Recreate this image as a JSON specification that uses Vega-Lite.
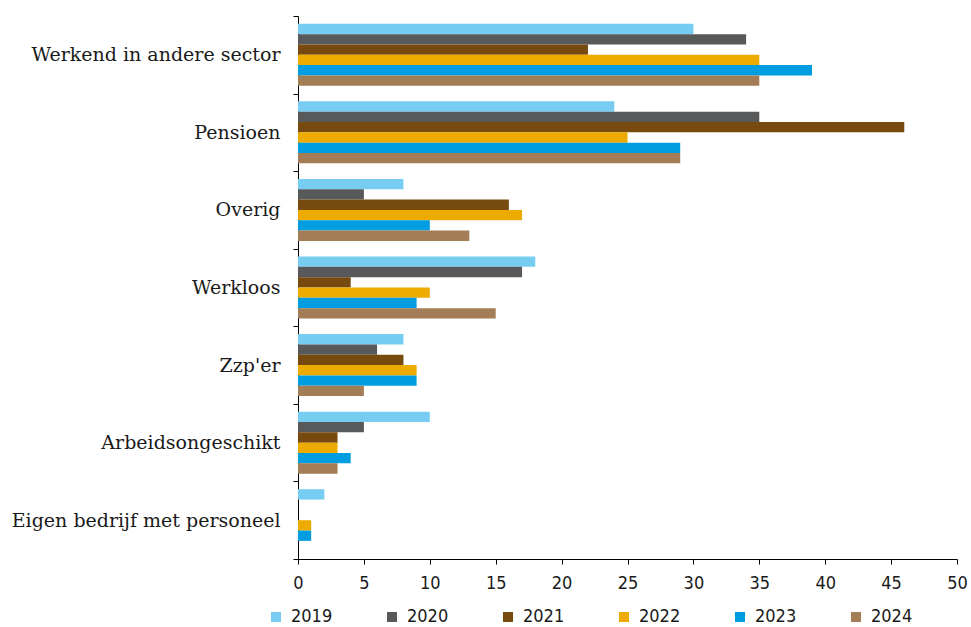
{
  "$schema": "https://vega.github.io/schema/vega-lite/v6.json",
  "autosize": {"type": "none"},
  "width": 659,
  "height": 543,
  "padding": {"left": 298, "top": 16, "right": 14, "bottom": 68},
  "background": "white",
  "data": {
    "values": [
      {"categorie": "Werkend in andere sector", "jaar": "2019", "waarde": 30},
      {"categorie": "Werkend in andere sector", "jaar": "2020", "waarde": 34},
      {"categorie": "Werkend in andere sector", "jaar": "2021", "waarde": 22},
      {"categorie": "Werkend in andere sector", "jaar": "2022", "waarde": 35},
      {"categorie": "Werkend in andere sector", "jaar": "2023", "waarde": 39},
      {"categorie": "Werkend in andere sector", "jaar": "2024", "waarde": 35},
      {"categorie": "Pensioen", "jaar": "2019", "waarde": 24},
      {"categorie": "Pensioen", "jaar": "2020", "waarde": 35},
      {"categorie": "Pensioen", "jaar": "2021", "waarde": 46},
      {"categorie": "Pensioen", "jaar": "2022", "waarde": 25},
      {"categorie": "Pensioen", "jaar": "2023", "waarde": 29},
      {"categorie": "Pensioen", "jaar": "2024", "waarde": 29},
      {"categorie": "Overig", "jaar": "2019", "waarde": 8},
      {"categorie": "Overig", "jaar": "2020", "waarde": 5},
      {"categorie": "Overig", "jaar": "2021", "waarde": 16},
      {"categorie": "Overig", "jaar": "2022", "waarde": 17},
      {"categorie": "Overig", "jaar": "2023", "waarde": 10},
      {"categorie": "Overig", "jaar": "2024", "waarde": 13},
      {"categorie": "Werkloos", "jaar": "2019", "waarde": 18},
      {"categorie": "Werkloos", "jaar": "2020", "waarde": 17},
      {"categorie": "Werkloos", "jaar": "2021", "waarde": 4},
      {"categorie": "Werkloos", "jaar": "2022", "waarde": 10},
      {"categorie": "Werkloos", "jaar": "2023", "waarde": 9},
      {"categorie": "Werkloos", "jaar": "2024", "waarde": 15},
      {"categorie": "Zzp'er", "jaar": "2019", "waarde": 8},
      {"categorie": "Zzp'er", "jaar": "2020", "waarde": 6},
      {"categorie": "Zzp'er", "jaar": "2021", "waarde": 8},
      {"categorie": "Zzp'er", "jaar": "2022", "waarde": 9},
      {"categorie": "Zzp'er", "jaar": "2023", "waarde": 9},
      {"categorie": "Zzp'er", "jaar": "2024", "waarde": 5},
      {"categorie": "Arbeidsongeschikt", "jaar": "2019", "waarde": 10},
      {"categorie": "Arbeidsongeschikt", "jaar": "2020", "waarde": 5},
      {"categorie": "Arbeidsongeschikt", "jaar": "2021", "waarde": 3},
      {"categorie": "Arbeidsongeschikt", "jaar": "2022", "waarde": 3},
      {"categorie": "Arbeidsongeschikt", "jaar": "2023", "waarde": 4},
      {"categorie": "Arbeidsongeschikt", "jaar": "2024", "waarde": 3},
      {"categorie": "Eigen bedrijf met personeel", "jaar": "2019", "waarde": 2},
      {"categorie": "Eigen bedrijf met personeel", "jaar": "2020", "waarde": 0},
      {"categorie": "Eigen bedrijf met personeel", "jaar": "2021", "waarde": 0},
      {"categorie": "Eigen bedrijf met personeel", "jaar": "2022", "waarde": 1},
      {"categorie": "Eigen bedrijf met personeel", "jaar": "2023", "waarde": 1},
      {"categorie": "Eigen bedrijf met personeel", "jaar": "2024", "waarde": 0}
    ]
  },
  "mark": {"type": "bar"},
  "encoding": {
    "y": {
      "field": "categorie",
      "type": "nominal",
      "sort": null,
      "scale": {"paddingInner": 0, "paddingOuter": 0},
      "axis": {
        "title": null,
        "tickBand": "extent",
        "domainColor": "#000000",
        "tickColor": "#000000",
        "tickSize": 5,
        "labelPadding": 13,
        "labelLimit": 0,
        "labelFont": "DejaVu Serif",
        "labelFontSize": 19,
        "labelColor": "#1a1a1a"
      }
    },
    "yOffset": {
      "field": "jaar",
      "type": "nominal",
      "scale": {"paddingInner": 0, "paddingOuter": 0.755}
    },
    "x": {
      "field": "waarde",
      "type": "quantitative",
      "scale": {"domain": [0, 50], "nice": false},
      "axis": {
        "title": null,
        "values": [0, 5, 10, 15, 20, 25, 30, 35, 40, 45, 50],
        "grid": false,
        "domainColor": "#000000",
        "tickColor": "#000000",
        "tickSize": 5,
        "labelPadding": 10,
        "labelFont": "DejaVu Sans Condensed, Liberation Sans",
        "labelFontSize": 18,
        "labelColor": "#1a1a1a",
        "labelFlush": false
      }
    },
    "color": {
      "field": "jaar",
      "type": "nominal",
      "scale": {
        "domain": ["2019", "2020", "2021", "2022", "2023", "2024"],
        "range": ["#76CDF1", "#58595B", "#774A0F", "#EDAB00", "#009EE0", "#A27D55"]
      },
      "legend": {
        "title": null,
        "orient": "none",
        "legendX": -31,
        "legendY": 592,
        "direction": "horizontal",
        "columns": 6,
        "symbolType": "square",
        "symbolSize": 100,
        "symbolStrokeWidth": 0,
        "labelFont": "DejaVu Sans Condensed, Liberation Sans",
        "labelFontSize": 18,
        "labelLimit": 0,
        "labelColor": "#1a1a1a",
        "labelOffset": 6,
        "columnPadding": 50
      }
    }
  },
  "config": {"view": {"stroke": null}}
}
